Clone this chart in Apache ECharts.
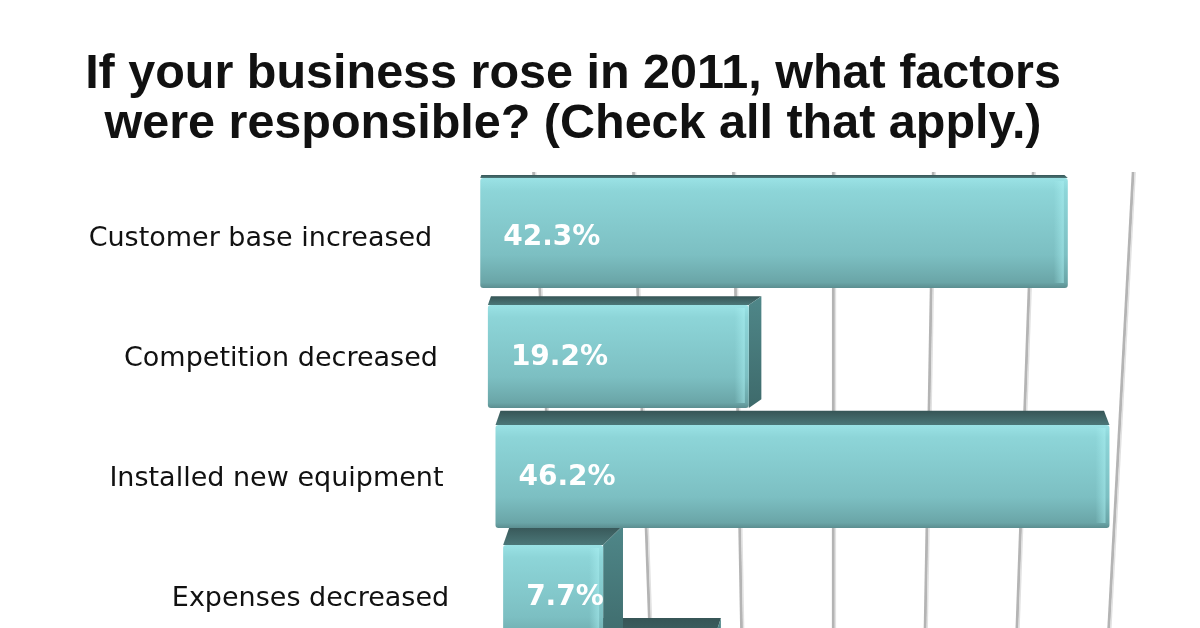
<!DOCTYPE html>
<html><head><meta charset="utf-8">
<script src="https://cdn.jsdelivr.net/npm/echarts@6/dist/echarts.min.js"></script>
<style>html,body{margin:0;padding:0;background:#fff}#c{width:1200px;height:628px}</style>
</head><body><div id="c"></div>
<script>
// ---- data ----
const categories = ['Customer base increased', 'Competition decreased', 'Installed new equipment', 'Expenses decreased', 'Other'];
const values = [42.3, 19.2, 46.2, 7.7, 15.4];
const valueLabels = ['42.3%', '19.2%', '46.2%', '7.7%', '15.4%'];
const wallTicks = [10, 20, 30, 40, 50, 60, 70];
const titleLines = ['If your business rose in 2011, what factors', 'were responsible? (Check all that apply.)'];

// ---- perspective helpers (styling only) ----
const VX = 833;
function S(y) { return 1 - 0.00018 * (y - 232); }
function P(x, y) { return VX + (x - VX) * S(y); }

function renderBar(params, api) {
  const idx = params.dataIndex;
  const v = api.value(0);
  const row = api.value(1);
  const a = api.coord([0, row]);
  const b = api.coord([v, row]);
  const yc = a[1];
  const x0 = P(a[0], yc), x1 = P(b[0], yc);
  const h = 103 + 7 * Math.max(0, Math.min(1, (300 - yc) / 64));
  const yB = yc + 52, yT = yB - h;
  const dy = 0.045 * (yT - 110) + 0.002 * Math.pow(Math.max(0, yT - 560), 2);
  const dxL = 0.35 * dy;
  const dxR = 0.05 * (1000 - x1);
  const zb = (10 - idx) * 10;
  const children = [];
  children.push({
    type: 'polygon', z2: zb + 1,
    shape: { points: [[x0, yT], [x1, yT], [x1 + dxR, yT - dy], [x0 + dxL, yT - dy]] },
    style: { fill: new echarts.graphic.LinearGradient(0, 0, 0, 1, [
      { offset: 0, color: '#365556' }, { offset: 1, color: '#4b7778' }]) }
  });
  if (dxR > 0) {
    children.push({
      type: 'polygon', z2: zb + 2,
      shape: { points: [[x1, yT], [x1 + dxR, yT - dy], [x1 + dxR, yB - dy], [x1, yB]] },
      style: { fill: new echarts.graphic.LinearGradient(0, 0, 0, 1, [
        { offset: 0, color: '#4f8789' }, { offset: 1, color: '#3e6a6b' }]) }
    });
  }
  children.push({
    type: 'rect', z2: zb + 3,
    shape: { x: x0, y: yT, width: x1 - x0, height: yB - yT, r: 3 },
    style: { fill: new echarts.graphic.LinearGradient(0, 0, 0, 1, [
      { offset: 0, color: '#9ae2e5' }, { offset: 0.12, color: '#8dd5d8' },
      { offset: 0.7, color: '#7cbfc2' }, { offset: 0.95, color: '#6aa5a7' }, { offset: 1, color: '#5b8e90' }]) }
  });
  children.push({
    type: 'rect', z2: zb + 4,
    shape: { x: x1 - 14, y: yT + 3, width: 10, height: yB - yT - 8 },
    style: { fill: new echarts.graphic.LinearGradient(0, 0, 1, 0, [
      { offset: 0, color: 'rgba(170,240,242,0)' }, { offset: 1, color: 'rgba(170,240,242,0.55)' }]) }
  });
  children.push({
    type: 'text', z2: zb + 5,
    style: { text: valueLabels[idx], x: x0 + 23, y: yc + 2, verticalAlign: 'middle', align: 'left',
      fill: '#ffffff', font: 'bold 28px "DejaVu Sans", sans-serif' }
  });
  const gap = 48 + 6 * (yc - 236) / 360;
  children.push({
    type: 'text', z2: zb + 5,
    style: { text: categories[idx], x: x0 - gap, y: yc + 3, verticalAlign: 'middle', align: 'right',
      fill: '#111111', font: '27px "DejaVu Sans", sans-serif' }
  });
  return { type: 'group', children: children };
}

function renderWall(params, api) {
  const v = api.value(0);
  const p = api.coord([v, 0]);
  const yTop = 172, yBot = 720;
  const xt = P(p[0], yTop), xb = P(p[0], yBot);
  return {
    type: 'group', children: [
      { type: 'line', shape: { x1: xt, y1: yTop, x2: xb, y2: yBot },
        style: { stroke: '#b4b4b4', lineWidth: 3 } },
      { type: 'line', shape: { x1: xt + 2, y1: yTop, x2: xb + 2, y2: yBot },
        style: { stroke: '#e2e2e2', lineWidth: 1.5 } }
    ]
  };
}

const chart = echarts.init(document.getElementById('c'), null, { renderer: 'canvas' });
chart.setOption({
  backgroundColor: '#ffffff',
  animation: false,
  title: {
    text: titleLines.join('\n'), left: 568, top: 45, textAlign: 'center',
    textStyle: { fontFamily: '"Liberation Sans", Arial, sans-serif', fontWeight: 'bold',
      fontSize: 48.5, lineHeight: 50, color: '#111111' }
  },
  grid: [
    { left: 480, top: 176, width: 695, height: 450 },
    { left: 438, top: 176, width: 692, height: 450 }
  ],
  xAxis: [
    { type: 'value', gridIndex: 0, min: 0, max: 50, show: false },
    { type: 'value', gridIndex: 1, min: 0, max: 70, interval: 10, show: false }
  ],
  yAxis: [
    { type: 'value', gridIndex: 0, inverse: true, min: -0.5, max: 3.25, show: false },
    { type: 'value', gridIndex: 1, min: 0, max: 1, show: false }
  ],
  series: [
    { type: 'custom', xAxisIndex: 1, yAxisIndex: 1, z: 1, clip: false,
      data: wallTicks.map(t => [t]), renderItem: renderWall },
    { type: 'custom', xAxisIndex: 0, yAxisIndex: 0, z: 5, clip: false,
      data: values.map((v, i) => [v, i]), renderItem: renderBar, encode: { x: 0, y: 1 } }
  ]
});
</script></body></html>
